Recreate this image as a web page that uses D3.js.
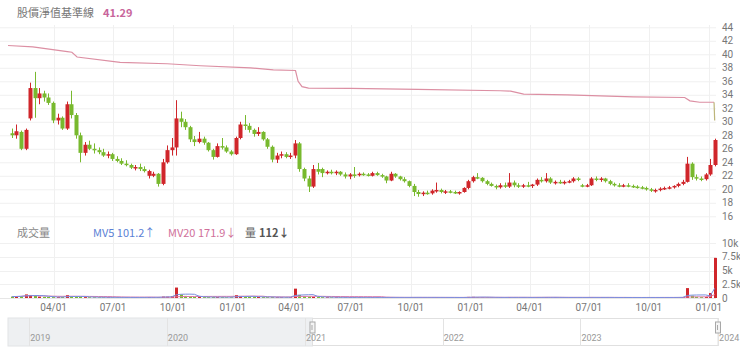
<!DOCTYPE html>
<html>
<head>
<meta charset="utf-8">
<script src="https://cdn.jsdelivr.net/npm/d3@7"></script>
<style>
  body { margin: 0; background: #fff; }
  text { font-family: "Noto Sans CJK TC", "Noto Sans", sans-serif; }
  text.num { font-family: Roboto, "Liberation Sans", sans-serif; }
</style>
</head>
<body>
<div id="chart-area"></div>
<script>
var width = 740;
var height = 353;
var parse = d3.timeParse("%Y-%m-%d");

// weekly candles, one per week (Wednesday), [open, high, low, close]
var candleStart = "2021-01-25";
var candleEnd = "2024-01-12";
var candles = [
  [28.3,29.0,27.6,28.0],[28.0,29.6,27.5,28.6],[28.5,28.7,25.8,26.0],[26.0,29.0,25.8,28.8],[30.5,35.8,30.2,35.0],
  [35.0,37.4,30.6,33.5],[33.5,35.0,32.6,34.2],[34.2,34.6,33.0,33.6],[33.6,34.2,32.5,32.8],[32.8,33.0,29.8,30.2],
  [30.2,31.2,29.6,30.6],[30.6,30.8,28.8,29.0],[29.0,33.0,28.8,32.6],[32.6,34.6,30.5,31.0],[31.0,31.3,27.5,28.0],
  [28.0,28.4,24.0,25.4],[25.4,27.0,25.0,26.6],[26.6,27.2,25.8,26.0],[26.0,26.8,25.3,25.8],[25.8,26.2,25.2,25.5],
  [25.5,26.0,24.8,25.0],[25.0,25.6,24.6,25.2],[25.2,25.4,24.2,24.5],[24.5,24.9,24.0,24.2],[24.2,24.6,23.6,23.8],
  [23.8,24.3,23.4,23.6],[23.6,23.8,23.0,23.2],[23.2,23.6,22.8,23.3],[23.3,23.8,22.7,23.0],[23.0,23.4,22.5,22.7],
  [22.0,22.9,21.6,22.7],[22.0,22.6,21.8,22.3],[22.3,22.4,20.4,20.8],[20.8,24.5,20.6,24.0],[24.0,26.5,23.8,25.8],
  [25.8,27.6,25.0,26.2],[26.2,33.2,25.0,30.5],[30.5,31.5,29.2,30.0],[30.0,30.4,28.8,29.2],[29.2,29.4,27.0,27.4],
  [27.4,27.9,26.4,27.0],[27.0,28.5,26.8,27.5],[27.5,27.8,26.6,26.9],[26.9,27.0,25.6,25.8],[25.8,26.0,24.4,24.8],
  [24.8,26.8,24.7,26.4],[26.4,27.6,25.9,26.2],[26.2,26.5,25.4,25.6],[25.6,25.8,25.0,25.2],[25.2,27.8,25.1,27.6],
  [27.6,30.0,27.4,29.6],[29.6,31.0,28.8,29.4],[29.4,29.8,28.4,28.8],[28.8,29.0,27.8,28.2],[28.2,29.2,27.9,28.5],
  [28.5,28.6,27.2,27.4],[27.4,27.6,26.0,26.3],[26.3,26.5,24.0,24.4],[24.4,25.4,23.9,25.0],[25.0,25.6,24.6,25.2],
  [25.2,25.5,24.6,24.8],[24.8,25.4,24.5,25.0],[25.0,27.3,24.6,26.8],[26.8,27.0,22.6,23.0],[23.0,23.2,21.2,21.6],
  [21.6,22.0,19.6,20.4],[20.4,23.6,20.2,23.0],[23.0,23.9,22.2,22.6],[23.0,23.2,21.8,22.4],[22.4,22.8,22.2,22.6],
  [22.6,22.9,22.2,22.5],[22.5,22.8,22.1,22.6],[22.6,22.7,22.0,22.2],[22.2,22.5,21.6,21.9],[21.9,22.4,21.5,22.2],
  [22.2,23.3,21.7,22.1],[22.1,22.5,21.9,22.3],[22.3,22.5,22.0,22.2],[22.2,22.4,21.9,22.0],[22.0,22.6,21.9,22.4],
  [22.4,22.6,22.0,22.1],[22.1,22.3,21.7,21.9],[21.9,22.0,20.9,21.3],[21.3,22.6,21.2,22.3],[22.3,22.4,21.7,21.9],
  [21.9,22.0,21.3,21.5],[21.5,21.8,21.0,21.2],[21.2,21.3,20.3,20.5],[20.5,20.8,19.0,19.6],[19.6,19.9,18.9,19.3],
  [19.3,19.7,19.0,19.5],[19.5,19.8,19.2,19.4],[19.4,20.0,19.2,19.8],[19.8,21.0,19.5,19.9],[19.9,20.1,19.4,19.6],
  [19.6,19.9,19.3,19.7],[19.7,19.9,19.4,19.6],[19.6,19.8,19.3,19.5],[19.5,19.7,19.2,19.6],[19.6,20.3,19.5,20.2],
  [20.2,21.4,20.0,21.2],[21.2,22.0,21.0,21.8],[21.8,22.4,21.5,21.7],[21.7,21.8,21.0,21.2],[21.2,21.4,20.6,20.8],
  [20.8,21.0,20.4,20.5],[20.5,20.7,20.0,20.3],[20.3,20.9,20.1,20.6],[20.6,21.0,20.2,20.4],[20.4,22.4,20.2,21.0],
  [21.0,21.3,20.3,20.6],[20.6,20.9,20.2,20.4],[20.4,20.8,20.2,20.6],[20.6,21.1,20.3,20.5],[20.5,20.8,20.2,20.7],
  [20.7,21.6,20.5,21.4],[21.4,21.8,21.0,21.2],[21.2,22.4,21.0,21.6],[21.6,21.8,20.8,21.0],[21.0,21.3,20.7,21.1],
  [21.1,21.4,20.8,21.0],[21.0,21.3,20.7,21.1],[21.1,21.4,20.9,21.2],[21.2,21.8,21.0,21.6],[21.6,21.8,21.2,21.4],
  [20.6,20.8,20.3,20.5],[20.5,20.8,20.3,20.6],[20.6,21.8,20.5,21.6],[21.6,21.9,21.2,21.4],[21.4,21.8,21.1,21.6],
  [21.6,21.7,21.0,21.2],[21.2,21.4,20.6,20.8],[20.8,21.0,20.4,20.6],[20.6,20.9,20.3,20.5],[20.5,20.8,20.3,20.6],
  [20.6,20.9,20.3,20.5],[20.5,20.7,20.2,20.4],[20.4,20.6,20.1,20.3],[20.3,20.5,20.0,20.2],[20.2,20.4,19.8,20.0],
  [20.0,20.2,19.6,19.8],[19.8,20.1,19.5,19.9],[19.9,20.3,19.7,20.1],[20.1,20.4,19.9,20.2],[20.2,20.5,20.0,20.3],
  [20.3,20.6,20.1,20.5],[20.5,21.0,20.3,20.8],[20.8,21.4,20.6,21.1],[21.1,24.8,21.0,23.8],[23.8,24.0,21.4,21.8],
  [21.8,22.2,21.3,21.6],[21.6,21.9,21.2,21.5],[21.5,22.4,21.3,22.2],[22.2,24.5,22.0,23.6],[23.6,27.5,23.4,27.3]
];

// volume per candle
var volumes = [
  250,300,350,650,550,420,260,200,180,160,
  150,170,520,320,220,200,160,140,130,120,
  120,110,110,100,100,110,100,100,100,110,
  160,110,150,260,240,320,1900,650,380,250,
  200,180,160,150,170,160,150,130,130,520,
  320,240,220,250,200,160,150,170,140,130,
  120,130,1700,560,320,260,220,170,150,130,
  120,110,110,100,100,130,100,100,100,100,
  100,100,110,120,100,100,100,110,150,110,
  100,100,100,130,100,100,90,90,90,110,
  200,210,160,130,120,110,100,100,100,150,
  110,100,100,100,100,130,120,140,110,100,
  100,100,100,120,110,90,90,130,110,100,
  100,100,90,90,90,90,90,90,90,100,
  100,90,100,100,100,100,120,160,1800,420,
  220,160,200,900,7300
];

// baseline (pink line)
var baseDates = ["2021-01-21","2021-02-28","2021-04-22","2021-04-29","2021-05-07","2021-07-12","2021-09-22",
  "2021-11-12","2022-01-28","2022-03-04","2022-04-07","2022-04-11","2022-04-17","2022-04-27","2022-06-30",
  "2022-10-11","2023-02-15","2023-03-03","2023-03-23","2023-05-29","2023-09-07","2023-11-25","2023-12-03",
  "2023-12-18","2024-01-09","2024-01-10"];
var baseValues = [41.3,41.1,40.4,40.3,39.6,38.8,38.6,38.3,38.0,37.7,37.6,36.0,35.2,35.0,34.95,
  34.8,34.6,34.55,34.1,34.0,33.7,33.6,33.1,32.9,32.9,30.2];

var priceTicks = [16,18,20,22,24,26,28,30,32,34,36,38,40,42,44];
var volTicks = [0,2500,5000,7500,10000];
var navStart = "2018-11-06";
var navEnd = "2024-01-06";

var topLegend = ["股價淨值基準線", "41.29"];
var volLegend = ["成交量", "MV5 101.2↑", "MV20 171.9↓", "量", "112↓"];

var upColor = "#d0262b", downColor = "#78b92e";
var gridColor = "#f0f0f0";

var svg = d3.select("#chart-area").append("svg")
    .attr("width", width)
    .attr("height", height);

var dates = d3.timeWednesday.range(parse(candleStart), parse(candleEnd));
var data = candles.map((c, i) => ({
    date: dates[i], open: c[0], high: c[1], low: c[2], close: c[3], vol: volumes[i]
}));

var x = d3.scaleTime()
    .domain([parse("2021-01-21"), parse(candleEnd)])
    .range([8, 716]);

var y = d3.scaleLinear().domain([16, 44]).range([216.3, 27.3]);
var yVol = d3.scaleLinear().domain([0, 10000]).range([298, 243]);

var quarterTicks = x.ticks(d3.timeMonth.every(3));

// grid lines
svg.append("g").selectAll("line")
    .data(priceTicks).enter().append("line")
    .attr("x1", 0).attr("x2", 716)
    .attr("y1", d => y(d) + 0.5).attr("y2", d => y(d) + 0.5)
    .attr("stroke", gridColor);

svg.append("g").selectAll("line")
    .data(volTicks).enter().append("line")
    .attr("x1", 0).attr("x2", 716)
    .attr("y1", d => Math.round(yVol(d)) + 0.5).attr("y2", d => Math.round(yVol(d)) + 0.5)
    .attr("stroke", d => d === 0 ? "#e6e6e6" : gridColor);

svg.append("g").selectAll("line")
    .data(quarterTicks).enter().append("line")
    .attr("x1", d => Math.round(x(d)) + 0.5).attr("x2", d => Math.round(x(d)) + 0.5)
    .attr("y1", 25).attr("y2", 298)
    .attr("stroke", gridColor);

// axis labels
svg.append("g").selectAll("text")
    .data(priceTicks).enter().append("text")
    .attr("class", "num")
    .attr("x", 722).attr("y", d => y(d) + 3.5)
    .attr("font-size", "10px").attr("fill", "#777")
    .text(d => d);

svg.append("g").selectAll("text")
    .data(volTicks).enter().append("text")
    .attr("class", "num")
    .attr("x", 722).attr("y", d => yVol(d) + 3.5)
    .attr("font-size", "10px").attr("fill", "#777")
    .text(d => d === 0 ? "0" : (d / 1000) + "k");

svg.append("g").selectAll("text")
    .data(quarterTicks).enter().append("text")
    .attr("class", "num")
    .attr("x", d => x(d)).attr("y", 311)
    .attr("text-anchor", "middle")
    .attr("font-size", "10px").attr("fill", "#777")
    .text(d => d3.timeFormat("%m/%d")(d));

// baseline
var baseData = baseDates.map((d, i) => ({ date: parse(d), value: baseValues[i] }));
var baseLine = d3.line().x(d => x(d.date)).y(d => y(d.value));
svg.append("path")
    .datum(baseData.slice(0, -1))
    .attr("d", baseLine)
    .attr("fill", "none").attr("stroke", "#dc8fa3").attr("stroke-width", 1.2);
svg.append("path")
    .datum(baseData.slice(-2))
    .attr("d", baseLine)
    .attr("fill", "none").attr("stroke", "#bdb57a").attr("stroke-width", 1.2);

// candles
var bodyW = 4;
var candle = svg.append("g").selectAll("g")
    .data(data).enter().append("g");

candle.append("line")
    .attr("x1", d => Math.round(x(d.date)) + 0.5).attr("x2", d => Math.round(x(d.date)) + 0.5)
    .attr("y1", d => y(d.high)).attr("y2", d => y(d.low))
    .attr("stroke", d => d.close >= d.open ? upColor : downColor);

candle.append("rect")
    .attr("x", d => Math.round(x(d.date)) - 1.5)
    .attr("width", bodyW)
    .attr("y", d => y(Math.max(d.open, d.close)))
    .attr("height", d => Math.max(1.5, Math.abs(y(d.open) - y(d.close))))
    .attr("fill", d => d.close >= d.open ? upColor : downColor);

// volume bars
svg.append("g").selectAll("rect")
    .data(data).enter().append("rect")
    .attr("x", d => Math.round(x(d.date)) - 1)
    .attr("width", 3)
    .attr("y", d => yVol(d.vol))
    .attr("height", d => yVol(0) - yVol(d.vol))
    .attr("fill", d => d.close >= d.open ? upColor : downColor);

// moving averages of volume
function movingAvg(n) {
    return data.map((d, i) => ({
        date: d.date,
        value: d3.mean(volumes.slice(Math.max(0, i - n + 1), i + 1))
    }));
}
var volLine = d3.line().x(d => x(d.date)).y(d => yVol(d.value));
svg.append("path").datum(movingAvg(20)).attr("d", volLine)
    .attr("fill", "none").attr("stroke", "#e07aa8").attr("stroke-width", 1);
svg.append("path").datum(movingAvg(5)).attr("d", volLine)
    .attr("fill", "none").attr("stroke", "#7a8ee0").attr("stroke-width", 1);

// legends
svg.append("text").attr("x", 17).attr("y", 17)
    .attr("font-size", "11px").attr("fill", "#777").text(topLegend[0]);
svg.append("text").attr("x", 103).attr("y", 17)
    .attr("font-size", "11px").attr("font-weight", "bold").attr("fill", "#c8659b").text(topLegend[1]);

svg.append("text").attr("x", 17).attr("y", 237)
    .attr("font-size", "11px").attr("fill", "#888").text(volLegend[0]);
svg.append("text").attr("x", 93).attr("y", 237)
    .attr("font-size", "11px").attr("fill", "#5b7fd6").text(volLegend[1]);
svg.append("text").attr("x", 168).attr("y", 237)
    .attr("font-size", "11px").attr("fill", "#d0709a").text(volLegend[2]);
svg.append("text").attr("x", 245).attr("y", 237)
    .attr("font-size", "11px").attr("fill", "#666").text(volLegend[3]);
svg.append("text").attr("x", 259).attr("y", 237)
    .attr("font-size", "11px").attr("font-weight", "bold").attr("fill", "#555").text(volLegend[4]);

// navigator
var nav = d3.scaleTime().domain([parse(navStart), parse(navEnd)]).range([8, 720]);
var navTop = 318, navBottom = 346;
var selL = nav(x.domain()[0]), selR = Math.min(718, nav(x.domain()[1]));

svg.append("rect")
    .attr("x", 8).attr("y", navTop)
    .attr("width", selL - 8).attr("height", navBottom - navTop)
    .attr("fill", "#eef0f2").attr("stroke", "#e2e4e6");
svg.append("rect")
    .attr("x", selL).attr("y", navTop + 0.5)
    .attr("width", selR - selL).attr("height", navBottom - navTop - 1)
    .attr("fill", "none").attr("stroke", "#e0e0e0");

var years = nav.ticks(d3.timeYear.every(1));
svg.append("g").selectAll("line")
    .data(years).enter().append("line")
    .attr("x1", d => Math.round(nav(d)) + 0.5).attr("x2", d => Math.round(nav(d)) + 0.5)
    .attr("y1", navTop).attr("y2", navBottom)
    .attr("stroke", "#e3e3e3");
svg.append("g").selectAll("text")
    .data(years).enter().append("text")
    .attr("class", "num")
    .attr("x", d => nav(d) + 1).attr("y", 341)
    .attr("font-size", "9px").attr("fill", "#999")
    .text(d => d3.timeFormat("%Y")(d));

[selL, selR].forEach(hx => {
    svg.append("rect")
        .attr("x", hx - 2.5).attr("y", 322)
        .attr("width", 5).attr("height", 11)
        .attr("fill", "#f4f4f4").attr("stroke", "#a8a8a8");
    svg.append("line")
        .attr("x1", hx - 0.5).attr("x2", hx - 0.5)
        .attr("y1", 325).attr("y2", 330)
        .attr("stroke", "#a8a8a8");
});
</script>
</body>
</html>
